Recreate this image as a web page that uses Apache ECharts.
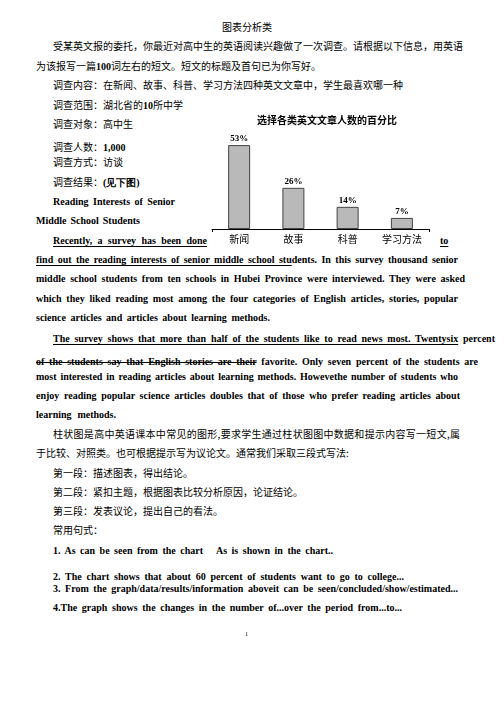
<!DOCTYPE html>
<html>
<head>
<meta charset="utf-8">
<script src="https://cdn.jsdelivr.net/npm/echarts@6/dist/echarts.min.js"></script>
<style>
  html,body{margin:0;padding:0;background:#fff;}
  #page{position:relative;width:504px;height:713px;overflow:hidden;background:#fff;}
  .ln{position:absolute;height:14px;line-height:14px;color:#000;white-space:nowrap;}
  .zh{font-family:"Noto Sans CJK SC",sans-serif;font-size:10px;}
  .en{font-family:"Liberation Serif","Times New Roman",serif;font-weight:bold;font-size:10px;}
  .j{white-space:normal;text-align:justify;text-align-last:justify;}
  .b{font-family:"Liberation Serif",serif;font-weight:bold;}
  .u{text-decoration:underline;text-decoration-thickness:1px;text-underline-offset:2px;}
  .s{text-decoration:line-through;text-decoration-thickness:1px;}
  #chart{position:absolute;left:0;top:0;width:504px;height:713px;}
</style>
</head>
<body>
<div id="page">
  <div id="text"></div>
  <div id="chart"></div>
</div>
<script>
// ---- chart data ----
const chartTitle = '选择各类英文文章人数的百分比';
const categories = ['新闻', '故事', '科普', '学习方法'];
const percentValues = [53, 26, 14, 7];

// ---- document text lines: [html, left, centerY, justifyWidth or 0, class] ----
const docLines = [
  ['图表分析类', 222, 27, 0, 'zh'],
  ['受某英文报的委托，你最近对高中生的英语阅读兴趣做了一次调查。请根据以下信息，用英语', 53, 46, 0, 'zh'],
  ['为该报写一篇<span class="b">100</span>词左右的短文。短文的标题及首句已为你写好。', 36, 66, 0, 'zh'],
  ['调查内容：在新闻、故事、科普、学习方法四种英文文章中，学生最喜欢哪一种', 53, 85, 0, 'zh'],
  ['调查范围：湖北省的<span class="b">10</span>所中学', 53, 105, 0, 'zh'],
  ['调查对象：高中生', 53, 124, 0, 'zh'],
  ['调查人数：<span class="b">1,000</span>', 53, 147, 0, 'zh'],
  ['调查方式：访谈', 53, 162, 0, 'zh'],
  ['调查结果：<span class="b">(见下图)</span>', 53, 182, 0, 'zh'],
  ['Reading Interests of Senior', 53, 202, 122, 'en'],
  ['Middle School Students', 36, 221, 104, 'en'],
  ['<span class="u">Recently, a survey has been done</span>', 53, 241, 154, 'en'],
  ['<span class="u">to </span>', 440, 241, 0, 'en'],
  ['<span class="u">find out the reading interests of senior middle school stu</span>dents. In this survey thousand senior', 36, 260, 422, 'en'],
  ['middle school students from ten schools in Hubei Province were interviewed. They were asked', 36, 279, 429, 'en'],
  ['which they liked reading most among the four categories of English articles, stories, popular', 36, 299, 422, 'en'],
  ['science articles and articles about learning methods.', 36, 318, 234, 'en'],
  ['<span class="u">The survey shows that more than half of the students like to read news most. Twentysix</span> percent', 53, 339, 442, 'en'],
  ['<span class="s">of the students say that English stories are their</span> favorite. Only seven percent of the students are', 36, 362, 442, 'en'],
  ['most interested in reading articles about learning methods. Howevethe number of students who', 36, 377, 422, 'en'],
  ['enjoy reading popular science articles doubles that of those who prefer reading articles about', 36, 396, 424, 'en'],
  ['learning methods.', 36, 415, 80, 'en'],
  ['柱状图是高中英语课本中常见的图形,要求学生通过柱状图图中数据和提示内容写一短文,属', 53, 434, 407, 'zh'],
  ['于比较、对照类。也可根据提示写为议论文。通常我们采取三段式写法:', 36, 453, 0, 'zh'],
  ['第一段：描述图表，得出结论。', 53, 473, 0, 'zh'],
  ['第二段：紧扣主题，根据图表比较分析原因，论证结论。', 53, 492, 0, 'zh'],
  ['第三段：发表议论，提出自己的看法。', 53, 511, 0, 'zh'],
  ['常用句式：', 53, 530, 0, 'zh'],
  ['1. As can be seen from the chart&nbsp;&nbsp; As is shown in the chart..', 53, 551, 280, 'en'],
  ['2. The chart shows that about 60 percent of students want to go to college...', 53, 577, 351, 'en'],
  ['3. From the graph/data/results/information aboveit can be seen/concluded/show/estimated...', 53, 589, 405, 'en'],
  ['4.The graph shows the changes in the number of...over the period from...to...', 53, 608, 349, 'en'],
  ['1', 245, 634, 0, 'en']
];

const textBox = document.getElementById('text');
docLines.forEach(([html, x, y, w, cls]) => {
  const d = document.createElement('div');
  d.className = 'ln ' + cls + (w ? ' j' : '');
  d.style.left = x + 'px';
  d.style.top = (y - 7) + 'px';
  if (w) d.style.width = w + 'px';
  if (html === '1') { d.style.fontSize = '6px'; d.style.fontWeight = 'normal'; }
  d.innerHTML = html;
  textBox.appendChild(d);
});

// ---- chart ----
const chart = echarts.init(document.getElementById('chart'), null, {renderer: 'canvas'});
chart.setOption({
  backgroundColor: 'transparent',
  animation: false,
  title: {
    text: chartTitle,
    left: 257,
    top: 115,
    padding: 0,
    textStyle: {fontFamily: 'Noto Sans CJK SC', fontSize: 10, fontWeight: 'bold', color: '#000'}
  },
  grid: {left: 212, right: 75, top: 134, bottom: 484, containLabel: false},
  xAxis: {
    type: 'category',
    data: categories,
    axisLine: {lineStyle: {color: '#000', width: 1}},
    axisTick: {show: true, length: 3, interval: (i) => i === 0, lineStyle: {color: '#000'}},
    axisLabel: {color: '#000', fontSize: 10, margin: 5, fontFamily: 'Noto Sans CJK SC'}
  },
  yAxis: {type: 'value', min: 0, max: 60, show: false},
  series: [{
    type: 'bar',
    data: percentValues,
    barWidth: 22,
    itemStyle: {color: '#b9b9b9', borderColor: '#444', borderWidth: 1},
    label: {
      show: true, position: 'top', distance: 2,
      formatter: '{c}%',
      fontFamily: 'Liberation Serif', fontWeight: 'bold', fontSize: 9, color: '#000'
    }
  }]
});
</script>
</body>
</html>
